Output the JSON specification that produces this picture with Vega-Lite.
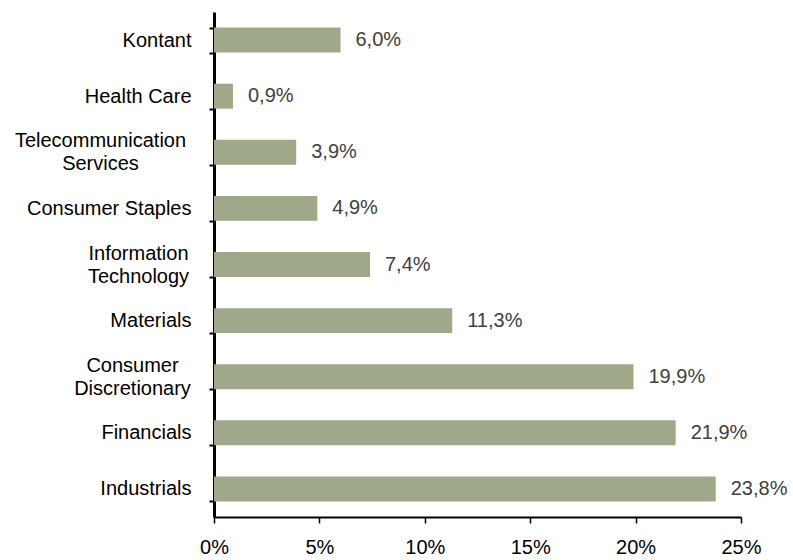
{
  "$schema": "https://vega.github.io/schema/vega-lite/v6.json",
  "autosize": {"type": "none"},
  "padding": {"left": 214, "top": 12, "right": 52, "bottom": 43},
  "width": 527,
  "height": 505,
  "background": "white",
  "config": {
    "view": {"stroke": null},
    "font": "Liberation Sans",
    "locale": {"number": {"decimal": ",", "thousands": ".", "grouping": [3], "currency": ["", " kr"]}}
  },
  "data": {
    "values": [
      {"sektor": "Kontant", "andel": 0.060},
      {"sektor": "Health Care", "andel": 0.009},
      {"sektor": "Telecommunication Services", "andel": 0.039},
      {"sektor": "Consumer Staples", "andel": 0.049},
      {"sektor": "Information Technology", "andel": 0.074},
      {"sektor": "Materials", "andel": 0.113},
      {"sektor": "Consumer Discretionary", "andel": 0.199},
      {"sektor": "Financials", "andel": 0.219},
      {"sektor": "Industrials", "andel": 0.238}
    ]
  },
  "encoding": {
    "y": {
      "field": "sektor",
      "type": "nominal",
      "sort": null,
      "scale": {"paddingInner": 0.555, "paddingOuter": 0.2775},
      "axis": {
        "title": null,
        "domainColor": "black",
        "domainWidth": 3,
        "tickBand": "extent",
        "tickColor": "black",
        "tickWidth": 2,
        "tickSize": 5,
        "labelPadding": 18,
        "labelFontSize": 20,
        "labelColor": "black",
        "labelLimit": 300,
        "labelLineHeight": 23,
        "labelExpr": "indexof(['Telecommunication Services','Information Technology','Consumer Discretionary'], datum.value) >= 0 ? split(datum.value, ' ') : datum.value",
        "labelAlign": {"condition": {"test": "indexof(['Telecommunication Services','Information Technology','Consumer Discretionary'], datum.value) >= 0", "value": "center"}, "value": "right"},
        "labelOffset": {"condition": {"test": "indexof(['Telecommunication Services','Information Technology','Consumer Discretionary'], datum.value) >= 0", "value": -11.5}, "value": 0},
        "encoding": {
          "labels": {
            "dx": {"value": {"expr": "datum.value == 'Telecommunication Services' ? -91 : datum.value == 'Information Technology' ? -53 : datum.value == 'Consumer Discretionary' ? -59 : 0"}}
          }
        }
      }
    },
    "x": {
      "field": "andel",
      "type": "quantitative",
      "scale": {"domain": [0, 0.25], "nice": false, "zero": true},
      "axis": {
        "title": null,
        "grid": false,
        "values": [0, 0.05, 0.1, 0.15, 0.2, 0.25],
        "format": ".0%",
        "domainColor": "black",
        "domainWidth": 2,
        "tickColor": "black",
        "tickWidth": 1.5,
        "tickSize": 6,
        "labelPadding": 14,
        "labelFontSize": 20,
        "labelColor": "black",
        "labelFlush": false
      }
    }
  },
  "layer": [
    {"mark": {"type": "bar", "color": "#9fa889"}},
    {
      "mark": {"type": "text", "align": "left", "baseline": "middle", "dx": 15, "fontSize": 20, "color": "#404040"},
      "encoding": {"text": {"field": "andel", "type": "quantitative", "format": ".1%"}}
    }
  ]
}
